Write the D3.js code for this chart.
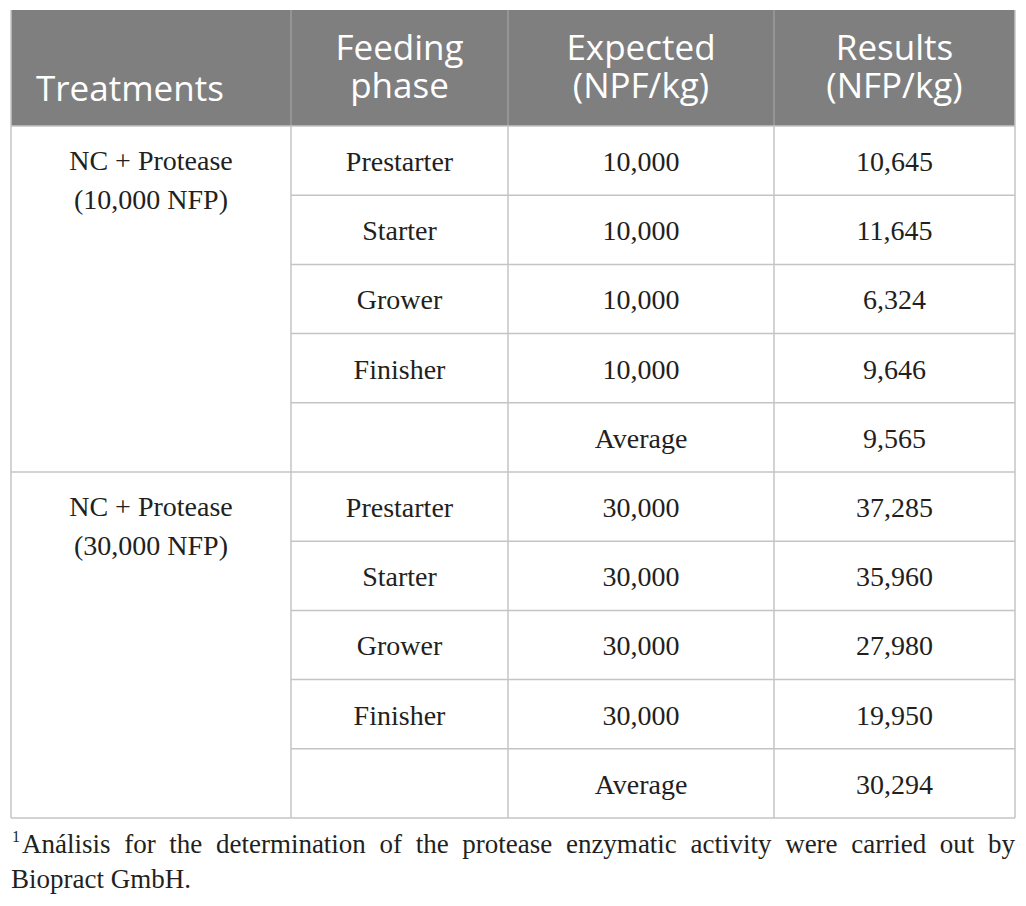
<!DOCTYPE html>
<html>
<head>
<meta charset="utf-8">
<script src="https://cdn.jsdelivr.net/npm/d3@7"></script>
<style>
  body { margin: 0; background: #fff; }
  svg { display: block; }
</style>
</head>
<body>
<div id="table"></div>
<script>
// table content

var headers = [["Treatments"], ["Feeding", "phase"], ["Expected", "(NPF/kg)"], ["Results", "(NFP/kg)"]];
var treatments = [["NC + Protease", "(10,000 NFP)"], ["NC + Protease", "(30,000 NFP)"]];
var phases = ["Prestarter", "Starter", "Grower", "Finisher", ""];
var expected10k = [10000, 10000, 10000, 10000];
var results10k = [10645, 11645, 6324, 9646, 9565];
var expected30k = [30000, 30000, 30000, 30000];
var results30k = [37285, 35960, 27980, 19950, 30294];
var footnote = "Análisis for the determination of the protease enzymatic activity were carried out by";
var footnote2 = "Biopract GmbH.";

// layout

var W = 1026, H = 906;
var colEdges = [11, 291, 508, 774, 1015];
var headTop = 10, bodyTop = 126, rowH = 69.2;
var lineColor = "#c4c4c4";
var fmt = d3.format(",");

var svg = d3.select("#table").append("svg")
  .attr("width", W)
  .attr("height", H);

var y = d3.scaleLinear().domain([0, 10]).range([bodyTop, bodyTop + 10 * rowH]);
var colMid = function(i){ return (colEdges[i] + colEdges[i + 1]) / 2; };

// header
svg.append("rect")
  .attr("x", colEdges[0]).attr("y", headTop)
  .attr("width", colEdges[4] - colEdges[0]).attr("height", bodyTop - headTop)
  .attr("fill", "#7f7f7f");

headers.forEach(function(lines, i){
  var base = lines.length === 1 ? [101] : [60, 98];
  lines.forEach(function(l, j){
    var t = svg.append("text")
      .attr("font-family", "'Open Sans', sans-serif")
      .attr("font-size", 35)
      .attr("fill", "#fff")
      .attr("y", base[j])
      .text(l);
    if (i === 0) {
      t.attr("x", colEdges[0] + 25).attr("text-anchor", "start");
    } else {
      t.attr("x", colMid(i)).attr("text-anchor", "middle");
    }
  });
});

// header dividers
[1, 2, 3].forEach(function(i){
  svg.append("line")
    .attr("x1", colEdges[i]).attr("x2", colEdges[i])
    .attr("y1", headTop).attr("y2", bodyTop)
    .attr("stroke", "#a3a3a3").attr("stroke-width", 1.2);
});

// body rows
var rows = [];
[[expected10k, results10k], [expected30k, results30k]].forEach(function(g, gi){
  phases.forEach(function(p, k){
    rows.push({
      group: gi,
      idx: gi * 5 + k,
      phase: p,
      expected: k < 4 ? fmt(g[0][k]) : "Average",
      result: fmt(g[1][k])
    });
  });
});

var bodyFont = "'Liberation Serif', 'Times New Roman', serif";

var cells = svg.selectAll(".row")
  .data(rows)
  .enter().append("g")
  .attr("class", "row");

cells.append("text")
  .attr("x", colMid(1)).attr("y", function(d){ return y(d.idx) + 45; })
  .text(function(d){ return d.phase; });
cells.append("text")
  .attr("x", colMid(2)).attr("y", function(d){ return y(d.idx) + 45; })
  .text(function(d){ return d.expected; });
cells.append("text")
  .attr("x", colMid(3)).attr("y", function(d){ return y(d.idx) + 45; })
  .text(function(d){ return d.result; });

cells.selectAll("text")
  .attr("text-anchor", "middle")
  .attr("font-family", bodyFont)
  .attr("font-size", 28)
  .attr("fill", "#231f20");

treatments.forEach(function(lines, gi){
  var t = svg.append("text")
    .attr("x", colMid(0))
    .attr("text-anchor", "middle")
    .attr("font-family", bodyFont)
    .attr("font-size", 28)
    .attr("fill", "#231f20");
  lines.forEach(function(l, j){
    t.append("tspan").attr("x", colMid(0)).attr("y", y(gi * 5) + 44 + j * 39).text(l);
  });
});

// grid lines
for (var r = 1; r < 10; r++) {
  if (r === 5) continue;
  svg.append("line")
    .attr("x1", colEdges[1]).attr("x2", colEdges[4])
    .attr("y1", y(r)).attr("y2", y(r))
    .attr("stroke", lineColor).attr("stroke-width", 1.5);
}
[0, 5, 10].forEach(function(r){
  svg.append("line")
    .attr("x1", colEdges[0]).attr("x2", colEdges[4])
    .attr("y1", y(r)).attr("y2", y(r))
    .attr("stroke", lineColor).attr("stroke-width", 1.5);
});
colEdges.forEach(function(cx, i){
  svg.append("line")
    .attr("x1", cx).attr("x2", cx)
    .attr("y1", i === 0 || i === 4 ? headTop : bodyTop).attr("y2", y(10))
    .attr("stroke", lineColor).attr("stroke-width", 1.5);
});

// footnote, justified line 1
var fnFont = 27;
var fy1 = 853, fy2 = 888;
var sup = svg.append("text")
  .attr("x", colEdges[0] + 1).attr("y", fy1 - 11)
  .attr("font-family", bodyFont).attr("font-size", 16)
  .attr("fill", "#231f20").text("1");
var startX = colEdges[0] + 1 + sup.node().getComputedTextLength() + 2;

var words = footnote.split(" ");
var wordNodes = words.map(function(w){
  return svg.append("text")
    .attr("y", fy1)
    .attr("font-family", bodyFont).attr("font-size", fnFont)
    .attr("fill", "#231f20").text(w);
});
var total = d3.sum(wordNodes, function(n){ return n.node().getComputedTextLength(); });
var gap = (colEdges[4] - startX - total) / (words.length - 1);
var cur = startX;
wordNodes.forEach(function(n){
  n.attr("x", cur);
  cur += n.node().getComputedTextLength() + gap;
});

svg.append("text")
  .attr("x", colEdges[0]).attr("y", fy2)
  .attr("font-family", bodyFont).attr("font-size", fnFont)
  .attr("fill", "#231f20").text(footnote2);
</script>
</body>
</html>
